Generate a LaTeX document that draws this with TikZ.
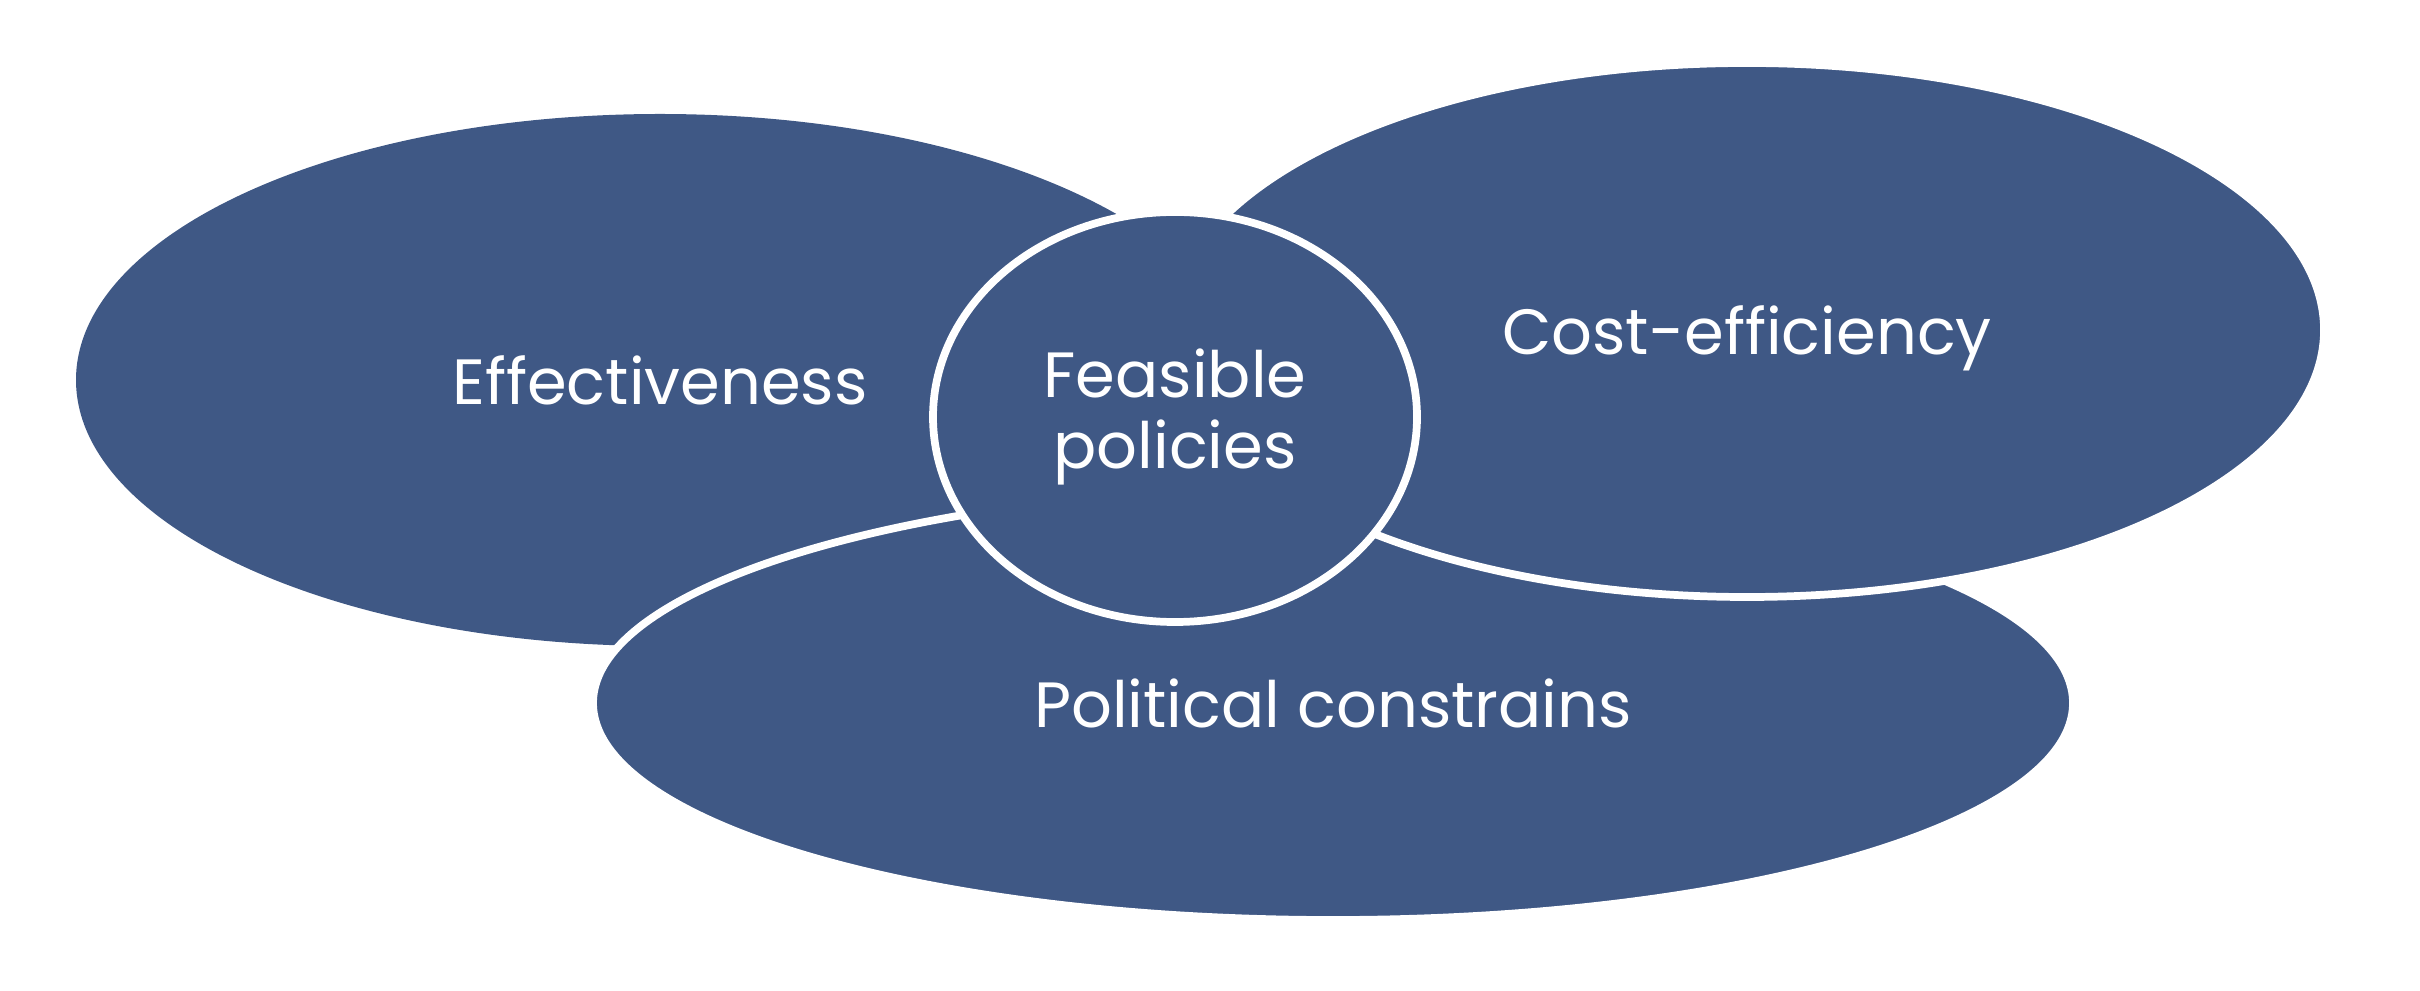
\documentclass[tikz,border=0pt]{standalone}
\usepackage{fontspec}
\setmainfont{Poppins}
\usepackage{tikz}
\usetikzlibrary{shapes.geometric}
\definecolor{vnBlue}{HTML}{3F5885}

\begin{document}
\begin{tikzpicture}[
  blob/.style={ellipse, fill=vnBlue, draw=white, line width=2.2pt, text=white, inner sep=0pt,
               align=center, font=\fontsize{18.2}{20}\selectfont}
]
\useasboundingbox (0,0) rectangle (24.2,9.9);
\node[blob, minimum width=11.68cm, minimum height=5.32cm, draw=none, text depth=0pt] (eff) at (6.60,6.10) {Effectiveness};
\node[blob, minimum width=14.80cm, minimum height=4.34cm, text depth=0pt] (pol) at (13.33,2.87) {Political constrains};
\node[blob, minimum width=11.54cm, minimum height=5.34cm, text depth=0pt] (cost) at (17.47,6.60) {Cost-efficiency};
\node[blob, minimum width=4.84cm, minimum height=4.10cm] (feas) at (11.75,5.73) {Feasible\\policies};
\end{tikzpicture}
\end{document}
